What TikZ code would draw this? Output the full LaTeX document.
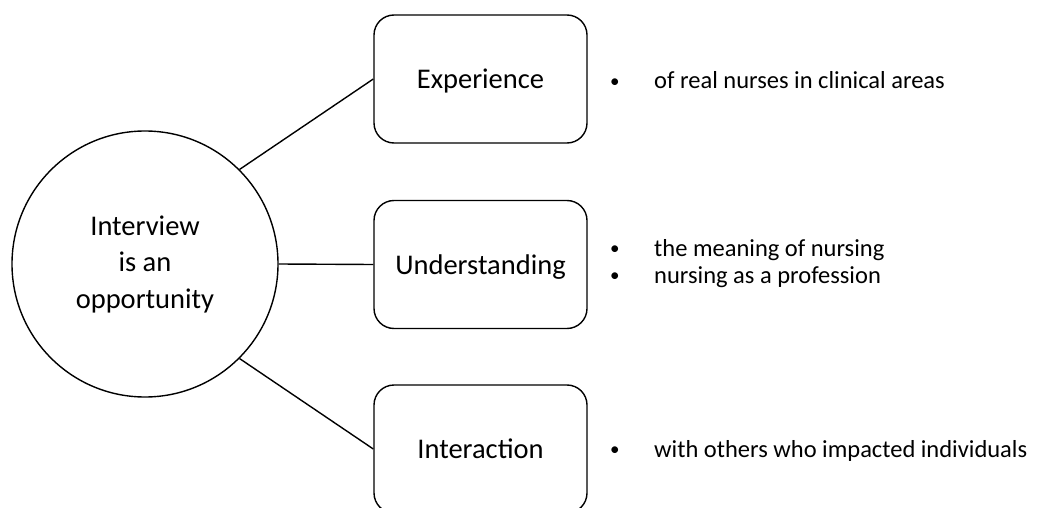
\documentclass[tikz,border=0pt]{standalone}
\usepackage{fontspec}
\setmainfont{Carlito}
\newcommand{\dotmark}{\makebox[44pt][l]{\raisebox{1.5pt}{\fontsize{19}{19}\selectfont\textbullet}}}
\begin{document}
\begin{tikzpicture}[x=1pt,y=-1pt,
    hub/.style={draw,circle,line width=1.4pt,minimum size=266pt,inner sep=0pt,align=center,
      font=\fontsize{28.5}{36.5}\selectfont},
    topic/.style={draw,line width=1.4pt,rounded corners=20pt,minimum width=213pt,minimum height=128pt,
      text depth=0pt,font=\fontsize{28.5}{34}\selectfont},
    point/.style={anchor=base west,inner sep=0pt,font=\fontsize{24.5}{28}\selectfont}]
    \useasboundingbox (0,0) rectangle (1039,508);

    % Central idea
    \node[hub] (opp) at (145,264) {Interview\\is an\\opportunity};

    % Topics
    \node[topic] (exp) at (480.5,79) {Experience};
    \node[topic] (und) at (480.5,264.5) {Understanding};
    \node[topic] (int) at (480.5,449) {Interaction};

    % Links
    \draw[line width=1.4pt] (opp.45) -- (exp.west);
    \draw[line width=1.4pt] (opp.east) -- (und.west);
    \draw[line width=1.4pt] (opp.-45) -- (int.west);

    % Bullet points
    \node[point] (exp1) at (610,89) {\dotmark of real nurses in clinical areas};
    \node[point] (und1) at (610,256) {\dotmark the meaning of nursing};
    \node[point] (und2) at (610,283) {\dotmark nursing as a profession};
    \node[point] (int1) at (610,457) {\dotmark with others who impacted individuals};
\end{tikzpicture}
\end{document}
